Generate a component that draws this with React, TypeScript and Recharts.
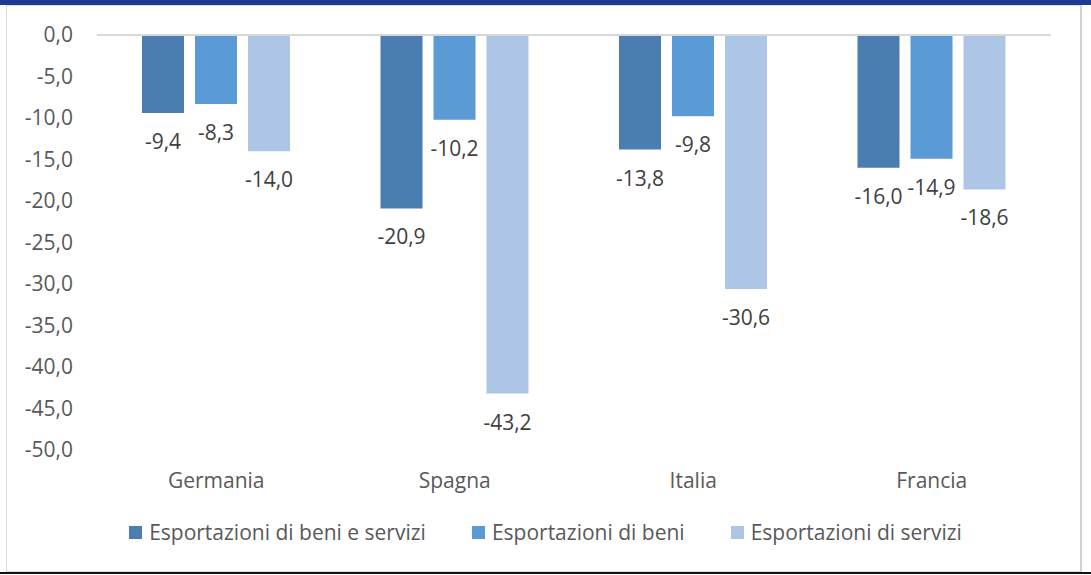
import React from 'react';
import { BarChart, Bar, XAxis, YAxis, Legend, ReferenceLine, LabelList } from 'recharts';

const FONT = '"Open Sans", Lato, sans-serif';

const countries = ['Germania', 'Spagna', 'Italia', 'Francia'];
const beniEServizi = [-9.4, -20.9, -13.8, -16.0];
const beni = [-8.3, -10.2, -9.8, -14.9];
const servizi = [-14.0, -43.2, -30.6, -18.6];
const yTicks = [0, -5, -10, -15, -20, -25, -30, -35, -40, -45, -50];

const seriesKeys = ['beniEServizi', 'beni', 'servizi'];
const seriesNames = ['Esportazioni di beni e servizi', 'Esportazioni di beni', 'Esportazioni di servizi'];
const seriesColors = ['#4A7EB0', '#5B9BD5', '#ADC6E5'];

const data = countries.map((name, i) => ({
  name,
  beniEServizi: beniEServizi[i],
  beni: beni[i],
  servizi: servizi[i],
}));

const fmt = (v: number) => Number(v).toFixed(1).replace('.', ',');

// value label drawn under the end of each (negative) bar
const ValueLabel = (props: any) => {
  const { x, y, width, height, value } = props;
  const end = Math.max(y, y + height);
  return (
    <text
      x={x + width / 2}
      y={end + 28}
      textAnchor="middle"
      dominantBaseline="central"
      fill="#404040"
      fontSize={21}
      fontFamily={FONT}
    >
      {fmt(value)}
    </text>
  );
};

const LegendContent = () => (
  <div style={{ display: 'flex', justifyContent: 'center', gap: 46, fontFamily: FONT, fontSize: 21, color: '#595959' }}>
    {seriesNames.map((n, i) => (
      <div key={n} style={{ display: 'flex', alignItems: 'center' }}>
        <span style={{ width: 13, height: 13, background: seriesColors[i], marginRight: 7, display: 'inline-block' }} />
        <span>{n}</span>
      </div>
    ))}
  </div>
);

export default function App() {
  return (
    <div style={{ position: 'absolute', left: 0, top: 0, width: 1091, height: 575, background: '#fff', overflow: 'hidden' }}>
      <div style={{ position: 'absolute', left: 0, top: 0, width: 1091, height: 5, background: '#1F3A93' }} />
      <div
        style={{
          position: 'absolute',
          left: 6,
          top: 5,
          width: 1073,
          height: 565,
          borderLeft: '1px solid #d9d9d9',
          borderTop: '1px solid #d9d9d9',
          borderBottom: '1px solid #d9d9d9',
          borderRight: '2px solid #d0d0d0',
        }}
      />
      <div style={{ position: 'absolute', left: 0, top: 572, width: 1091, height: 2, background: '#111' }} />
      <div style={{ position: 'absolute', left: 0, top: 0 }}>
        <BarChart
          width={1091}
          height={575}
          data={data}
          margin={{ top: 35, right: 40, left: 37, bottom: 57 }}
          barSize={42}
          barGap={11}
        >
          <XAxis
            dataKey="name"
            axisLine={false}
            tickLine={false}
            tickSize={0}
            tickMargin={23}
            height={40}
            tick={{ fill: '#595959', fontSize: 21, fontFamily: FONT }}
          />
          <YAxis
            domain={[-50, 0]}
            ticks={yTicks}
            tickFormatter={fmt}
            axisLine={false}
            tickLine={false}
            tickSize={0}
            tickMargin={24}
            width={60}
            tick={{ fill: '#595959', fontSize: 21, fontFamily: FONT }}
          />
          <ReferenceLine y={0} stroke="#d9d9d9" strokeWidth={2} />
          {seriesKeys.map((k, i) => (
            <Bar key={k} dataKey={k} name={seriesNames[i]} fill={seriesColors[i]} isAnimationActive={false}>
              <LabelList dataKey={k} content={<ValueLabel />} />
            </Bar>
          ))}
          <Legend content={<LegendContent />} wrapperStyle={{ top: 518, left: 0, width: 1091 }} />
        </BarChart>
      </div>
    </div>
  );
}
